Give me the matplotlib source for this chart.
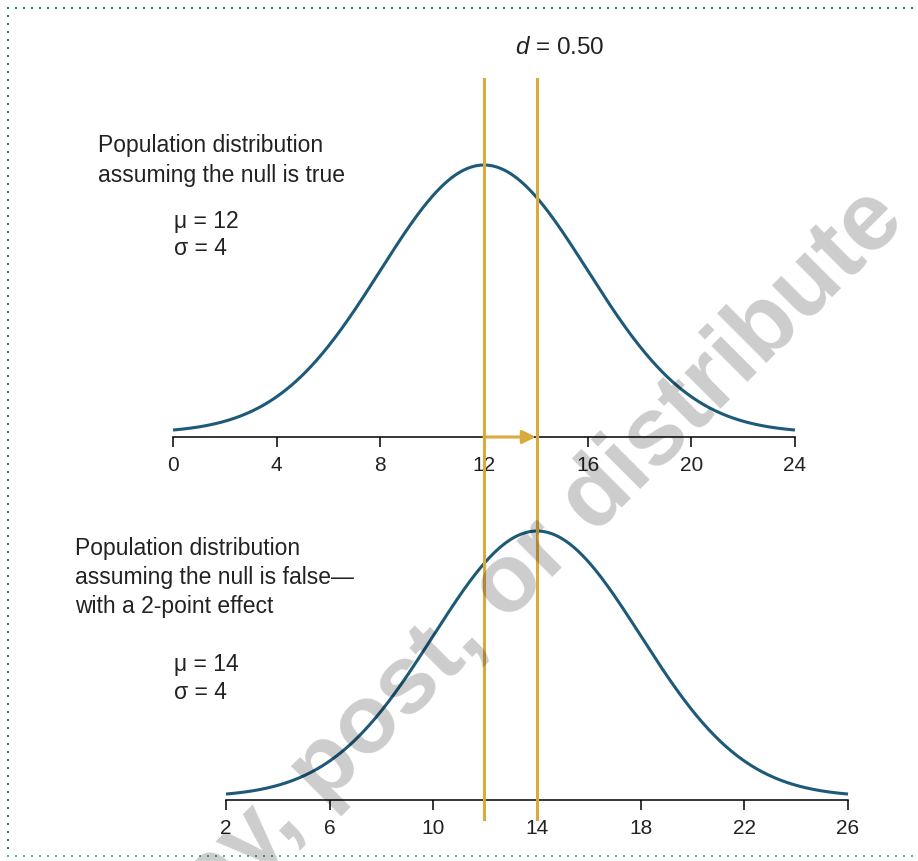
import numpy as np
import matplotlib
matplotlib.use("Agg")
import matplotlib.pyplot as plt
from matplotlib.lines import Line2D
from matplotlib.transforms import blended_transform_factory

plt.rcParams["font.family"] = ["Liberation Sans", "DejaVu Sans"]
plt.rcParams["mathtext.fontset"] = "custom"
plt.rcParams["mathtext.rm"] = "Liberation Sans"
plt.rcParams["mathtext.it"] = "Liberation Sans:italic"

W, H = 918, 861

# Null and alternative populations
null_mu, null_sigma = 12, 4
alt_mu, alt_sigma = 14, 4
effect_d = 0.50
null_ticks = [0, 4, 8, 12, 16, 20, 24]
alt_ticks = [2, 6, 10, 14, 18, 22, 26]

null_lines = ["Population distribution", "assuming the null is true"]
alt_lines = ["Population distribution", "assuming the null is false\u2014", "with a 2-point effect"]

CURVE = "#1d5a78"
GOLD = "#d8ab3c"
TEAL = "#138072"
INK = "#222222"
FS = 16.5


def fx(x):
    return x / W


def fy(y):
    return 1 - y / H


def normal_pdf(x, mu, sigma):
    return np.exp(-0.5 * ((x - mu) / sigma) ** 2) / (sigma * np.sqrt(2 * np.pi))


def make_axes(fig, left_px, axis_px, top_px, lo, hi, zero_px, peak_px, mu, sigma, ticks):
    ax = fig.add_axes([fx(left_px), fy(axis_px), 622 / W, (axis_px - top_px) / H])
    peak = normal_pdf(mu, mu, sigma)
    k = peak / (zero_px - peak_px)
    ax.set_xlim(lo, hi)
    ax.set_ylim(-(axis_px - zero_px) * k, (zero_px - top_px) * k)
    xs = np.linspace(lo, hi, 400)
    ax.plot(xs, normal_pdf(xs, mu, sigma), color=CURVE, lw=2.2, clip_on=False, solid_capstyle="butt")
    for side in ["top", "right", "left"]:
        ax.spines[side].set_visible(False)
    ax.spines["bottom"].set_linewidth(1.1)
    ax.set_yticks([])
    ax.set_xticks(ticks)
    ax.tick_params(axis="x", length=7, width=1.1, pad=7, labelsize=15, labelcolor=INK)
    ax.patch.set_alpha(0)
    return ax


fig = plt.figure(figsize=(W / 100, H / 100), dpi=100)

ax_null = make_axes(fig, 173, 437, 150, 0, 24, 433, 165, null_mu, null_sigma, null_ticks)
ax_alt = make_axes(fig, 226, 800, 515, 2, 26, 797, 531, alt_mu, alt_sigma, alt_ticks)

# Vertical markers at the two means, spanning both panels
for ax, mu in [(ax_null, null_mu), (ax_alt, alt_mu)]:
    tr = blended_transform_factory(ax.transData, fig.transFigure)
    fig.add_artist(Line2D([mu, mu], [fy(79), fy(819)], transform=tr, color=GOLD, lw=2.2, zorder=4))

# Arrow showing the shift between means
y0 = ax_null.get_ylim()[0]
ax_null.annotate("", xy=(alt_mu, y0), xytext=(null_mu, y0),
                 arrowprops=dict(arrowstyle="-|>", color=GOLD, lw=2.2, mutation_scale=20,
                                 shrinkA=0, shrinkB=0), zorder=5, annotation_clip=False)

fig.text(fx(515), fy(54), r"$d$ = %.2f" % effect_d, fontsize=17.5, va="baseline", color=INK)

for i, line in enumerate(null_lines):
    fig.text(fx(98), fy(152 + 30 * i), line, fontsize=FS, va="baseline", color=INK)
fig.text(fx(174), fy(228), "\u03bc = %d" % null_mu, fontsize=FS, va="baseline", color=INK)
fig.text(fx(174), fy(255), "\u03c3 = %d" % null_sigma, fontsize=FS, va="baseline", color=INK)

for i, line in enumerate(alt_lines):
    fig.text(fx(75), fy(555 + 29 * i), line, fontsize=FS, va="baseline", color=INK)
fig.text(fx(174), fy(671), "\u03bc = %d" % alt_mu, fontsize=FS, va="baseline", color=INK)
fig.text(fx(174), fy(699), "\u03c3 = %d" % alt_sigma, fontsize=FS, va="baseline", color=INK)

# Watermark
fig.text(fx(908), fy(222), "Do not copy, post, or distribute", fontsize=70, fontweight="bold",
         rotation=45, rotation_mode="anchor", ha="right", va="baseline",
         color="black", alpha=0.2, zorder=10)

# Dotted frame (2 px dots on whole-pixel boundaries so they stay crisp)
xs_dots = np.arange(8, W, 8)
ys_dots = np.arange(8, 857, 8)
fig.add_artist(Line2D(fx(xs_dots), np.full(len(xs_dots), fy(8)), ls="none", marker="s",
                      ms=1.44, mew=0, color=TEAL, transform=fig.transFigure))
fig.add_artist(Line2D(np.full(len(ys_dots), fx(8)), fy(ys_dots), ls="none", marker="s",
                      ms=1.44, mew=0, color=TEAL, transform=fig.transFigure))
fig.add_artist(Line2D(fx(xs_dots), np.full(len(xs_dots), fy(856)), ls="none", marker="s",
                      ms=1.44, mew=0, color="#4fb3a5", transform=fig.transFigure))

fig.savefig("out.png", dpi=100)
